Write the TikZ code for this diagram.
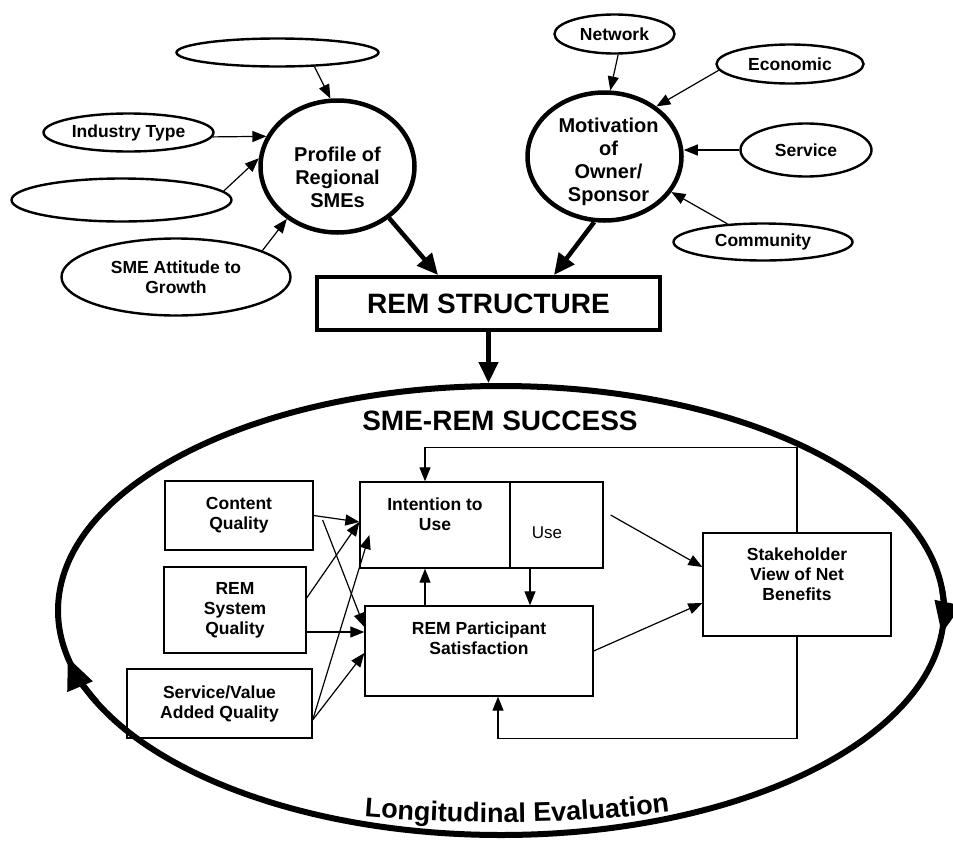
\documentclass[tikz,border=0pt]{standalone}
\usepackage{fontspec}
\setmainfont{Liberation Sans}
\usepackage{tikz}
\usetikzlibrary{positioning, calc, shapes.geometric}
\usetikzlibrary{arrows.meta, decorations.text}
\newcommand{\lblfont}{\fontsize{17.5}{20}\selectfont\bfseries}
\newcommand{\hubfont}{\fontsize{20}{23}\selectfont\bfseries}
\newcommand{\remfont}{\fontsize{28}{30}\selectfont\bfseries}
\newcommand{\titlefont}{\fontsize{28}{30}\selectfont\bfseries}
\newcommand{\evalfont}{\fontsize{27}{29}\selectfont\bfseries}
\tikzstyle{factor}=[ellipse,draw=black,line width=2.4pt,inner sep=0pt,
font=\lblfont,align=center]
\tikzstyle{hub}=[ellipse,draw=black,line width=4.5pt,inner sep=0pt]
\tikzstyle{hubtext}=[font=\hubfont,align=center,inner sep=0pt]
\tikzstyle{simplebox}=[rectangle,draw=black,line width=1.3pt,inner sep=0pt,
font=\lblfont,align=center]
\tikzstyle{textbox}=[font=\lblfont,align=center,inner sep=0pt]
\tikzstyle{headbox}=[rectangle,draw=black,line width=4pt,font=\remfont,
minimum width=343pt,minimum height=53pt]
\tikzstyle{edgepath} = [-{Triangle[length=14pt,width=11pt]},line width=1.2pt]
\tikzstyle{heavypath} = [-{Triangle[length=21pt,width=19pt]},line width=4.5pt]
\tikzstyle{ringtip} = [-{Triangle[length=32pt,width=26pt]},line width=6pt]
\begin{document}
\begin{tikzpicture}[x=1pt,y=-1pt]
    \useasboundingbox (0,0) rectangle (953,841);

    \node[hub, minimum width=154pt, minimum height=132pt] (profile) at (337.5,166.5) {};
    \node[hubtext] (profiletxt) at ([yshift=-11pt]profile.center) {Profile of\\Regional\\SMEs};
    \node[factor, minimum width=202pt, minimum height=28pt] (blanktop) at (277.5,52.5) {};
    \node[factor, minimum width=170pt, minimum height=38pt] (industry) at (128.5,132.5) {Industry Type};
    \node[factor, minimum width=220pt, minimum height=43pt] (blankmid) at (121.5,200) {};
    \node[factor, minimum width=229pt, minimum height=77pt] (attitude) at (176,277) {SME Attitude to\\Growth};

    \path[edgepath]
        (blanktop.-21) edge (profile.96)
        (industry.-3) edge (profile.157)
        (blankmid.5) edge (profile.174)
        (attitude.17) edge (profile.226);

    \node[hub, minimum width=154pt, minimum height=128pt] (motive) at (604.5,156.5) {};
    \node[hubtext] (motivetxt) at ([xshift=4pt,yshift=-5pt]motive.center) {Motivation\\of\\Owner/\\Sponsor};
    \node[factor, minimum width=120pt, minimum height=39pt] (network) at (614.5,34) {Network};
    \node[factor, minimum width=147pt, minimum height=39pt] (economic) at (790,64) {Economic};
    \node[factor, minimum width=131pt, minimum height=53pt] (service) at (806,150) {Service};
    \node[factor, minimum width=179pt, minimum height=37pt] (community) at (763,242) {Community};

    \path[edgepath]
        (network.-80) edge (motive.85)
        (economic.185) edge (motive.44)
        (service.west) edge (service.west -| motive.east)
        (community.153) edge (motive.-28);

    \node[headbox] (rem) at (488.5,303.5) {REM STRUCTURE};

    \path[heavypath]
        (profile.-45) edge ([xshift=-50.5pt]rem.north)
        (motive.-99) edge ([xshift=65.5pt]rem.north);

    \node[ellipse, draw=black, line width=6pt, minimum width=886pt, minimum height=449pt,
        inner sep=0pt] (ring) at (501,610.5) {};
    \draw[heavypath] (rem.south) -- (rem.south |- ring.north);
    \path (ring.center) ++(156:443 and 224.5) coordinate (ringwest);
    \path (ring.center) ++(-5:443 and 224.5) coordinate (ringeast);
    \draw[ringtip] (ringwest) arc[start angle=156, end angle=168, x radius=443, y radius=224.5];
    \draw[ringtip] (ringeast) arc[start angle=-5, end angle=6, x radius=443, y radius=224.5];

    \node[font=\titlefont, inner sep=0pt] (successtitle) at (500,421) {SME-REM SUCCESS};

    \node[simplebox, minimum width=148pt, minimum height=69pt] (content) at (239,515.5) {Content\\Quality};
    \node[simplebox, minimum width=142pt, minimum height=86pt] (system) at (235,610) {REM\\System\\Quality};
    \node[simplebox, minimum width=185pt, minimum height=69pt] (valueadd) at (219.5,703.5) {Service/Value\\Added Quality};

    \node[simplebox, minimum width=150pt, minimum height=86pt] (intent) at (435,525) {};
    \node[textbox, below=16pt of intent.north] (intenttxt) {Intention to\\Use};
    \node[simplebox, minimum width=93pt, minimum height=86pt] (use) at (556.5,525) {};
    \node[font=\fontsize{17}{20}\selectfont, inner sep=0pt] (usetxt) at (547,533) {Use};
    \node[simplebox, minimum width=228pt, minimum height=90pt] (partic) at (479,651) {};
    \node[textbox, below=16pt of partic.north] (partictxt) {REM Participant\\Satisfaction};
    \node[simplebox, minimum width=188pt, minimum height=103pt] (stake) at (797,584.5) {};
    \node[textbox, below=15pt of stake.north] (staketxt) {Stakeholder\\View of Net\\Benefits};

    \path[edgepath]
        (content.east) edge ([yshift=3pt]intent.west)
        ([xshift=9pt,yshift=-4.5pt]content.east) edge ([yshift=24pt]partic.west)
        ([yshift=12pt]system.east) edge ([yshift=3pt]intent.west)
        ([yshift=-22pt]system.east) edge ([yshift=19pt]partic.west)
        ([yshift=-16.5pt]valueadd.east) edge ([xshift=10pt,yshift=-10pt]intent.west)
        ([yshift=-16.5pt]valueadd.east) edge ([yshift=-2pt]partic.west)
        ([xshift=7pt,yshift=10pt]use.east) edge ([yshift=17.5pt]stake.west)
        (partic.east) edge ([yshift=-18.5pt]stake.west)
        ([xshift=-26.5pt]use.south) edge ([xshift=51pt]partic.north)
        ([xshift=-54pt]partic.north) edge ([xshift=-10pt]intent.south);

    \draw[edgepath] (stake.north) -- ++(0,-85) -| ([xshift=-10pt]intent.north);
    \draw[edgepath] (stake.south) -- ++(0,102) -| ([xshift=19pt]partic.south);

    \path[decorate, decoration={text along path, text align=center,
        text={|\evalfont|Longitudinal Evaluation}}]
        (356,816) .. controls (460,825) and (570,825) .. (678,811);
\end{tikzpicture}
\end{document}
